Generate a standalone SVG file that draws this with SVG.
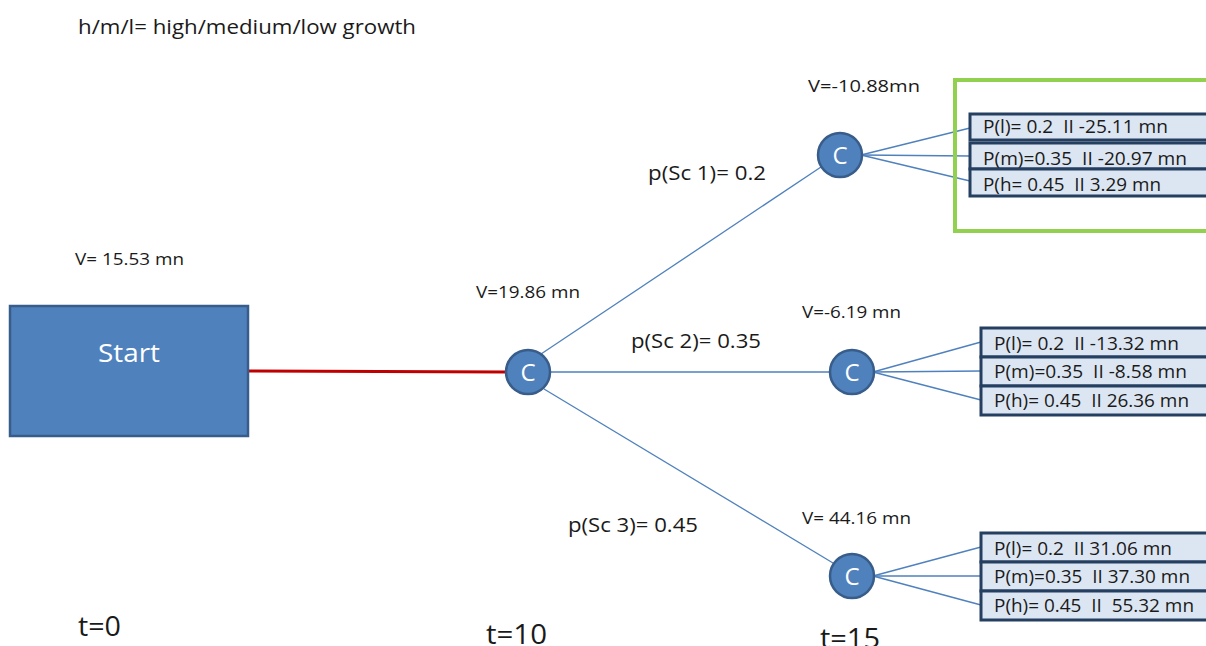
<svg xmlns="http://www.w3.org/2000/svg" width="1206" height="646" viewBox="0 0 1206 646">
<style>
text{font-family:"Open Sans","Liberation Sans",sans-serif;fill:#1a1a1a}
.lbl{font-size:17px}
.p{font-size:20px}
.t{font-size:27px}
.row{fill:#DCE6F2;stroke:#243F60;stroke-width:3}
.rt{font-size:18.5px;white-space:pre}
.cn{fill:#4F81BD;stroke:#385D8A;stroke-width:2.5}
.ct{fill:#fff;font-size:24px;text-anchor:middle}
.edge{stroke:#4F81BD;stroke-width:1.3;fill:none}
</style>
<rect width="1206" height="646" fill="#fff"/>
<text x="78" y="34" style="font-size:20px" textLength="338" lengthAdjust="spacingAndGlyphs">h/m/l= high/medium/low growth</text>
<text class="lbl" x="75" y="265" textLength="109" lengthAdjust="spacingAndGlyphs">V= 15.53 mn</text>
<text class="lbl" x="476" y="298" textLength="104" lengthAdjust="spacingAndGlyphs">V=19.86 mn</text>
<text class="lbl" x="808" y="92" textLength="112" lengthAdjust="spacingAndGlyphs">V=-10.88mn</text>
<text class="lbl" x="802" y="318" textLength="99" lengthAdjust="spacingAndGlyphs">V=-6.19 mn</text>
<text class="lbl" x="802" y="524" textLength="109" lengthAdjust="spacingAndGlyphs">V= 44.16 mn</text>
<text class="p" x="648" y="180" textLength="118" lengthAdjust="spacingAndGlyphs">p(Sc 1)= 0.2</text>
<text class="p" x="631" y="348" textLength="130" lengthAdjust="spacingAndGlyphs">p(Sc 2)= 0.35</text>
<text class="p" x="568" y="532" textLength="130" lengthAdjust="spacingAndGlyphs">p(Sc 3)= 0.45</text>
<text class="t" x="78" y="636" textLength="43" lengthAdjust="spacingAndGlyphs">t=0</text>
<text class="t" x="486" y="644" textLength="61" lengthAdjust="spacingAndGlyphs">t=10</text>
<text class="t" x="820" y="648" textLength="60" lengthAdjust="spacingAndGlyphs">t=15</text>
<g id="connectors">
<line x1="248" y1="371" x2="506" y2="372" stroke="#C00000" stroke-width="3"/>
<line class="edge" x1="541" y1="354" x2="821" y2="167"/>
<line class="edge" x1="550" y1="372" x2="830" y2="372"/>
<line class="edge" x1="544" y1="389" x2="833" y2="563"/>
<line class="edge" x1="861" y1="155" x2="970" y2="128"/>
<line class="edge" x1="861" y1="155" x2="970" y2="156"/>
<line class="edge" x1="861" y1="155" x2="970" y2="181"/>
<line class="edge" x1="873" y1="372" x2="981" y2="342"/>
<line class="edge" x1="873" y1="372" x2="981" y2="371"/>
<line class="edge" x1="873" y1="372" x2="981" y2="400"/>
<line class="edge" x1="873" y1="576" x2="981" y2="547"/>
<line class="edge" x1="873" y1="576" x2="981" y2="576"/>
<line class="edge" x1="873" y1="576" x2="981" y2="605"/>
</g>
<g id="start">
<rect x="10" y="306" width="238" height="130" fill="#4F81BD" stroke="#385D8A" stroke-width="2.5"/>
<text x="129" y="362" style="fill:#fff;font-size:25px;text-anchor:middle" textLength="62" lengthAdjust="spacingAndGlyphs">Start</text>
</g>
<g id="c1"><circle class="cn" cx="528" cy="372" r="22"/><text class="ct" x="528" y="381">C</text></g>
<g id="c2"><circle class="cn" cx="840" cy="155" r="22"/><text class="ct" x="840" y="164">C</text></g>
<g id="c3"><circle class="cn" cx="852" cy="372" r="22"/><text class="ct" x="852" y="381">C</text></g>
<g id="c4"><circle class="cn" cx="852" cy="576" r="22"/><text class="ct" x="852" y="585">C</text></g>
<g id="outcomes1">
<rect x="955" y="80" width="260" height="151" fill="none" stroke="#92D050" stroke-width="4"/>
<rect class="row" x="970" y="114" width="250" height="26"/>
<text class="rt" x="983" y="133" textLength="185" lengthAdjust="spacingAndGlyphs">P(l)= 0.2  II -25.11 mn</text>
<rect class="row" x="970" y="143" width="250" height="26"/>
<text class="rt" x="983" y="165" textLength="204" lengthAdjust="spacingAndGlyphs">P(m)=0.35  II -20.97 mn</text>
<rect class="row" x="970" y="169" width="250" height="27"/>
<text class="rt" x="983" y="191" textLength="178" lengthAdjust="spacingAndGlyphs">P(h= 0.45  II 3.29 mn</text>
</g>
<g id="outcomes2">
<rect class="row" x="981" y="328" width="240" height="29"/>
<text class="rt" x="994" y="350" textLength="185" lengthAdjust="spacingAndGlyphs">P(l)= 0.2  II -13.32 mn</text>
<rect class="row" x="981" y="357" width="240" height="29"/>
<text class="rt" x="994" y="378" textLength="193" lengthAdjust="spacingAndGlyphs">P(m)=0.35  II -8.58 mn</text>
<rect class="row" x="981" y="386" width="240" height="29"/>
<text class="rt" x="994" y="407" textLength="195" lengthAdjust="spacingAndGlyphs">P(h)= 0.45  II 26.36 mn</text>
</g>
<g id="outcomes3">
<rect class="row" x="981" y="533" width="240" height="29"/>
<text class="rt" x="994" y="555" textLength="178" lengthAdjust="spacingAndGlyphs">P(l)= 0.2  II 31.06 mn</text>
<rect class="row" x="981" y="562" width="240" height="29"/>
<text class="rt" x="994" y="583" textLength="196" lengthAdjust="spacingAndGlyphs">P(m)=0.35  II 37.30 mn</text>
<rect class="row" x="981" y="591" width="240" height="29"/>
<text class="rt" x="994" y="612" textLength="200" lengthAdjust="spacingAndGlyphs">P(h)= 0.45  II  55.32 mn</text>
</g>
</svg>
